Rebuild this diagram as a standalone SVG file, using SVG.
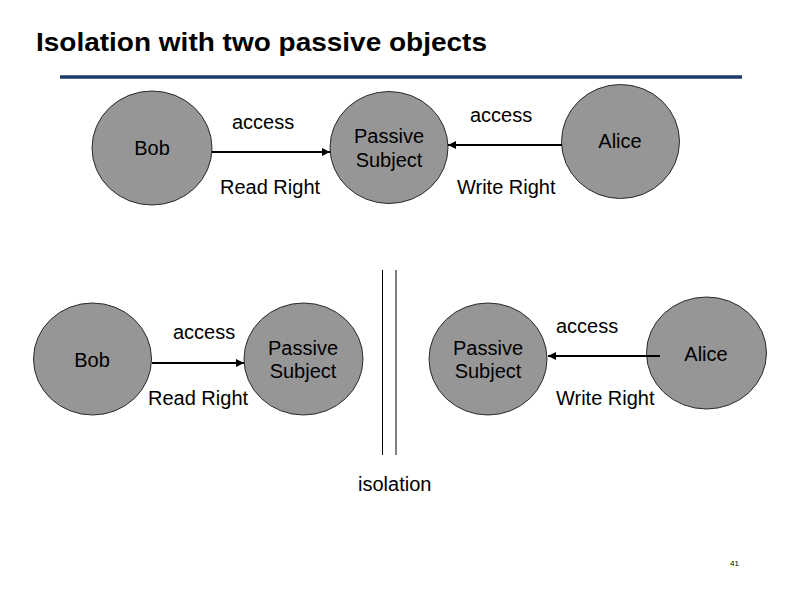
<svg xmlns="http://www.w3.org/2000/svg" width="792" height="594" viewBox="0 0 792 594">
<style>
.node{fill:#969696;stroke:#2a2a2a;stroke-width:1}
text{font-family:"Liberation Sans",Arial,sans-serif;fill:#000}
.lbl{font-size:20px}
.c{text-anchor:middle}
.conn line{stroke:#000;stroke-width:2}
</style>
<defs>
<marker id="ah" viewBox="0 0 10 10" refX="10" refY="5" markerWidth="4" markerHeight="4" orient="auto" markerUnits="strokeWidth">
<path d="M0,0 L10,5 L0,10 z" fill="#000"/>
</marker>
</defs>
<rect width="792" height="594" fill="#fff"/>
<text x="36" y="51" font-size="26" font-weight="bold" textLength="451" lengthAdjust="spacingAndGlyphs">Isolation with two passive objects</text>
<line x1="60" y1="77" x2="742" y2="77" stroke="#1f3a66" stroke-width="3.5"/>

<g id="bob-top"><ellipse class="node" cx="152" cy="148" rx="60" ry="57"/><text class="lbl c" x="152" y="155">Bob</text></g>
<g id="passive-top"><ellipse class="node" cx="389" cy="147.5" rx="59" ry="56"/><text class="lbl c" x="389" y="143">Passive</text><text class="lbl c" x="389" y="167">Subject</text></g>
<g id="alice-top"><ellipse class="node" cx="620.5" cy="141.5" rx="59" ry="57"/><text class="lbl c" x="620" y="148">Alice</text></g>

<g id="bob-bottom"><ellipse class="node" cx="92.5" cy="359" rx="59" ry="56"/><text class="lbl c" x="92" y="367">Bob</text></g>
<g id="passive-bottom-left"><ellipse class="node" cx="303.5" cy="359" rx="59.5" ry="56"/><text class="lbl c" x="303" y="355">Passive</text><text class="lbl c" x="303" y="378">Subject</text></g>
<g id="passive-bottom-right"><ellipse class="node" cx="488" cy="359" rx="59" ry="56"/><text class="lbl c" x="488" y="355">Passive</text><text class="lbl c" x="488" y="378">Subject</text></g>
<g id="alice-bottom"><ellipse class="node" cx="706.5" cy="353" rx="60" ry="56"/><text class="lbl c" x="706" y="361">Alice</text></g>

<g class="conn" id="connectors">
<line x1="212" y1="152" x2="330" y2="152" marker-end="url(#ah)"/>
<line x1="562" y1="145" x2="448" y2="145" marker-end="url(#ah)"/>
<line x1="152" y1="363" x2="244" y2="363" marker-end="url(#ah)"/>
<line x1="660" y1="356" x2="548" y2="356" marker-end="url(#ah)"/>
</g>

<g id="labels">
<text class="lbl" x="232" y="129">access</text>
<text class="lbl" x="220" y="194">Read Right</text>
<text class="lbl" x="470" y="122">access</text>
<text class="lbl" x="457" y="194">Write Right</text>
<text class="lbl" x="173" y="339">access</text>
<text class="lbl" x="148" y="405">Read Right</text>
<text class="lbl" x="556" y="333">access</text>
<text class="lbl" x="556" y="405">Write Right</text>
<text class="lbl" x="358" y="491">isolation</text>
</g>

<g id="isolation-barrier" stroke="#000" stroke-width="1">
<line x1="382.5" y1="270" x2="382.5" y2="455"/>
<line x1="396" y1="270" x2="396" y2="455"/>
</g>

<text x="730" y="566" font-size="8">41</text>
</svg>
